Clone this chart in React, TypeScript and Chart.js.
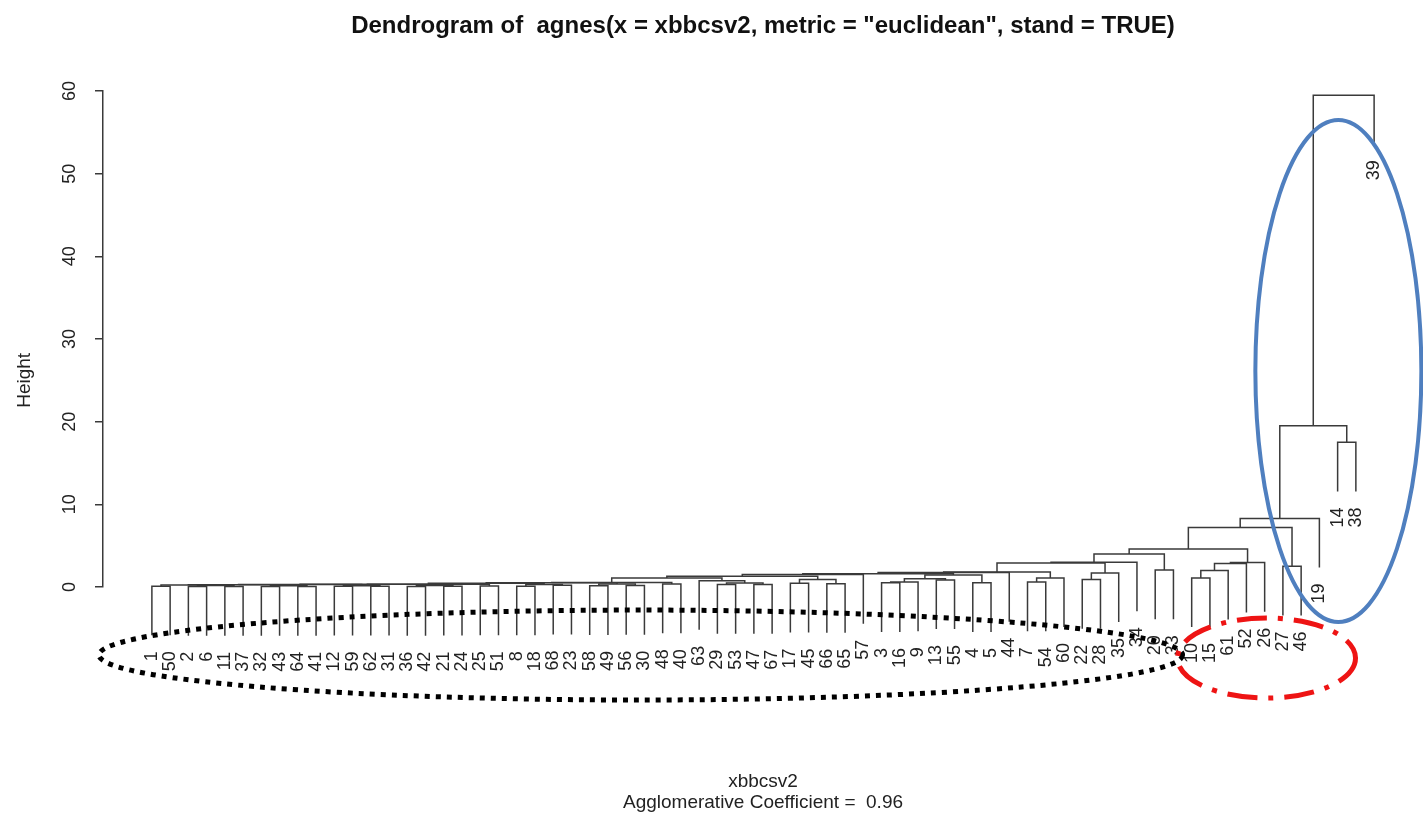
import React, { useEffect, useRef } from "react";
import { Chart, registerables } from "chart.js";

Chart.register(...registerables);

// ---------------- data ----------------
// leaves in plotting order (observation numbers)
const leafOrder = [
  1, 50, 2, 6, 11, 37, 32, 43, 64, 41, 12, 59, 62, 31, 36, 42, 21, 24, 25, 51,
  8, 18, 68, 23, 58, 49, 56, 30, 48, 40, 63, 29, 53, 47, 67, 17, 45, 66, 65, 57,
  3, 16, 9, 13, 55, 4, 5, 44, 7, 54, 60, 22, 28, 35, 34, 20, 33, 10, 15, 61,
  52, 26, 27, 46, 19, 14, 38, 39,
];

// merge table (R convention: negative = observation, positive = earlier merge step)
const mergeLeft = [
  -1, -2, -11, 2, 1, -32, -64, 6, 5, -12, -62, 10, 9, -36, -21, 14, 13, -25, 17, -8,
  -68, 20, 19, -58, -56, 24, 23, -48, 27, -29, -47, 30, -63, 29, -17, -66, 35, 34, 38, -3,
  40, -13, 41, -4, 43, 39, 46, -7, 48, 47, -22, 51, 50, 53, -20, 54, -10, 57, 58, 59,
  56, -27, 61, 63, -14, 64, 66,
];
const mergeRight = [
  -50, -6, -37, 3, 4, -43, -41, 7, 8, -59, -31, 11, 12, -42, -24, 15, 16, -51, 18, -18,
  -23, 21, 22, -49, -30, 25, 26, -40, 28, -53, -67, 31, 32, 33, -45, -65, 36, 37, -57, -16,
  -9, -55, 42, -5, 44, 45, -44, -54, -60, 49, -28, -35, 52, -34, -33, 55, -15, -61, -52, -26,
  60, -46, 62, -19, -38, 65, -39,
];
const mergeHeight = [
  0.1, 0.06, 0.06, 0.18, 0.24, 0.06, 0.06, 0.16, 0.28, 0.08, 0.08, 0.14, 0.3, 0.06, 0.08, 0.18, 0.32, 0.12, 0.34, 0.1,
  0.2, 0.3, 0.45, 0.15, 0.18, 0.36, 0.52, 0.35, 0.55, 0.3, 0.3, 0.48, 0.76, 1.1, 0.45, 0.4, 0.9, 1.3, 1.5, 0.5,
  0.6, 0.85, 1.0, 0.5, 1.45, 1.6, 1.75, 0.6, 1.1, 1.8, 0.9, 1.7, 2.9, 3.0, 2.05, 4.0, 1.1, 2.0, 2.85, 2.95,
  4.6, 2.5, 7.2, 8.3, 17.5, 19.5, 59.5,
];

const yTicks = [0, 10, 20, 30, 40, 50, 60];

const titleText = 'Dendrogram of  agnes(x = xbbcsv2, metric = "euclidean", stand = TRUE)';
const xTitleText = "xbbcsv2";
const subTitleText = "Agglomerative Coefficient =  0.96";
const yTitleText = "Height";

// hand-drawn annotation ellipses, in data units (x = leaf position, y = height)
const ellipseCx = [26.8, 61.1, 65.04];
const ellipseCy = [-8.23, -8.59, 26.13];
const ellipseRx = [29.7, 4.88, 4.55];
const ellipseRy = [5.44, 4.84, 30.36];

// ---------------- styles ----------------
const LINE_COLOR = "#3a3a3a";
const TEXT_COLOR = "#222";
const FONT = '"Liberation Sans", Arial, sans-serif';
const ELLIPSE_STYLES = [
  { color: "#000000", width: 5, dash: [5, 6] },
  { color: "#ee1414", width: 5, dash: [30, 11, 5, 11] },
  { color: "#4f7fbf", width: 4, dash: [] as number[] },
];

// ---------------- tree layout ----------------
const hang = 0.1 * (Math.max(...mergeHeight) - Math.min(...mergeHeight));

function buildTree() {
  const nodeX: number[] = [];
  const leafEnd: number[] = new Array(leafOrder.length).fill(0);
  const segments: { x: number; y: number }[][] = [];
  const child = (c: number, h: number) => {
    if (c < 0) {
      const i = leafOrder.indexOf(-c);
      leafEnd[i] = h - hang;
      return { x: i, top: h - hang };
    }
    return { x: nodeX[c - 1], top: mergeHeight[c - 1] };
  };
  for (let k = 0; k < mergeHeight.length; k++) {
    const h = mergeHeight[k];
    const a = child(mergeLeft[k], h);
    const b = child(mergeRight[k], h);
    nodeX[k] = (a.x + b.x) / 2;
    segments.push([
      { x: a.x, y: a.top },
      { x: a.x, y: h },
      { x: b.x, y: h },
      { x: b.x, y: b.top },
    ]);
  }
  return { segments, leafEnd };
}

export default function App() {
  const ref = useRef<HTMLCanvasElement | null>(null);

  useEffect(() => {
    if (!ref.current) return;
    const { segments, leafEnd } = buildTree();
    const n = leafOrder.length;
    const pad = 0.04 * (n - 1);

    const textPlugin = {
      id: "dendroText",
      afterDraw(chart: any) {
        const ctx = chart.ctx as CanvasRenderingContext2D;
        const xs = chart.scales.x;
        const ys = chart.scales.y;
        const area = chart.chartArea;
        const cx = (area.left + area.right) / 2;
        ctx.save();
        ctx.fillStyle = TEXT_COLOR;

        // title
        ctx.fillStyle = "#111";
        ctx.font = `bold 24px ${FONT}`;
        ctx.textAlign = "center";
        ctx.textBaseline = "middle";
        ctx.fillText(titleText, cx, 26);
        ctx.fillStyle = TEXT_COLOR;

        // y tick labels (rotated)
        ctx.font = `18px ${FONT}`;
        for (const v of yTicks) {
          const py = ys.getPixelForValue(v);
          ctx.save();
          ctx.translate(area.left - 33, py);
          ctx.rotate(-Math.PI / 2);
          ctx.textAlign = "center";
          ctx.textBaseline = "middle";
          ctx.fillText(String(v), 0, 0);
          ctx.restore();
        }

        // y title
        ctx.save();
        ctx.font = `19px ${FONT}`;
        ctx.translate(area.left - 78, ys.getPixelForValue(25));
        ctx.rotate(-Math.PI / 2);
        ctx.textAlign = "center";
        ctx.textBaseline = "middle";
        ctx.fillText(yTitleText, 0, 0);
        ctx.restore();

        // leaf labels
        ctx.font = `18px ${FONT}`;
        for (let i = 0; i < n; i++) {
          const px = xs.getPixelForValue(i);
          const py = ys.getPixelForValue(leafEnd[i]) + 16;
          ctx.save();
          ctx.translate(px, py);
          ctx.rotate(-Math.PI / 2);
          ctx.textAlign = "right";
          ctx.textBaseline = "middle";
          ctx.fillText(String(leafOrder[i]), 0, 0);
          ctx.restore();
        }

        // x title & sub title
        ctx.font = `19px ${FONT}`;
        ctx.textAlign = "center";
        ctx.textBaseline = "middle";
        ctx.fillText(xTitleText, cx, 782);
        ctx.fillText(subTitleText, cx, 803);

        // annotation ellipses
        for (let e = 0; e < ellipseCx.length; e++) {
          const st = ELLIPSE_STYLES[e];
          const ex = xs.getPixelForValue(ellipseCx[e]);
          const ey = ys.getPixelForValue(ellipseCy[e]);
          const rx = Math.abs(xs.getPixelForValue(ellipseCx[e] + ellipseRx[e]) - ex);
          const ry = Math.abs(ys.getPixelForValue(ellipseCy[e] + ellipseRy[e]) - ey);
          ctx.beginPath();
          ctx.strokeStyle = st.color;
          ctx.lineWidth = st.width;
          ctx.setLineDash(st.dash);
          ctx.lineCap = "butt";
          ctx.ellipse(ex, ey, rx, ry, 0, 0, Math.PI * 2);
          ctx.stroke();
        }
        ctx.restore();
      },
    };

    const chart = new Chart(ref.current, {
      type: "line",
      data: {
        datasets: segments.map((seg) => ({
          data: seg,
          borderColor: LINE_COLOR,
          borderWidth: 1.5,
          pointRadius: 0,
          pointHoverRadius: 0,
          fill: false,
          tension: 0,
          clip: false as any,
        })),
      },
      options: {
        responsive: false,
        animation: false,
        devicePixelRatio: 1,
        events: [],
        layout: { padding: { top: 91, bottom: 233, left: 0, right: 0 } },
        plugins: {
          legend: { display: false },
          tooltip: { enabled: false },
          title: { display: false },
        },
        scales: {
          x: {
            type: "linear",
            min: -pad,
            max: n - 1 + pad,
            display: false,
          },
          y: {
            type: "linear",
            min: 0,
            max: 60,
            ticks: { display: false, stepSize: 10 },
            grid: {
              drawOnChartArea: false,
              drawTicks: true,
              tickLength: 8,
              color: LINE_COLOR,
              lineWidth: 1.5,
            },
            border: { display: true, color: LINE_COLOR, width: 1.5 },
            afterFit: (scale: any) => {
              scale.width = 103;
            },
          },
        },
      },
      plugins: [textPlugin],
    });

    return () => chart.destroy();
  }, []);

  return (
    <div style={{ position: "absolute", left: 0, top: 0, width: 1423, height: 820, background: "#fff" }}>
      <canvas ref={ref} width={1423} height={820} style={{ display: "block" }} />
    </div>
  );
}
